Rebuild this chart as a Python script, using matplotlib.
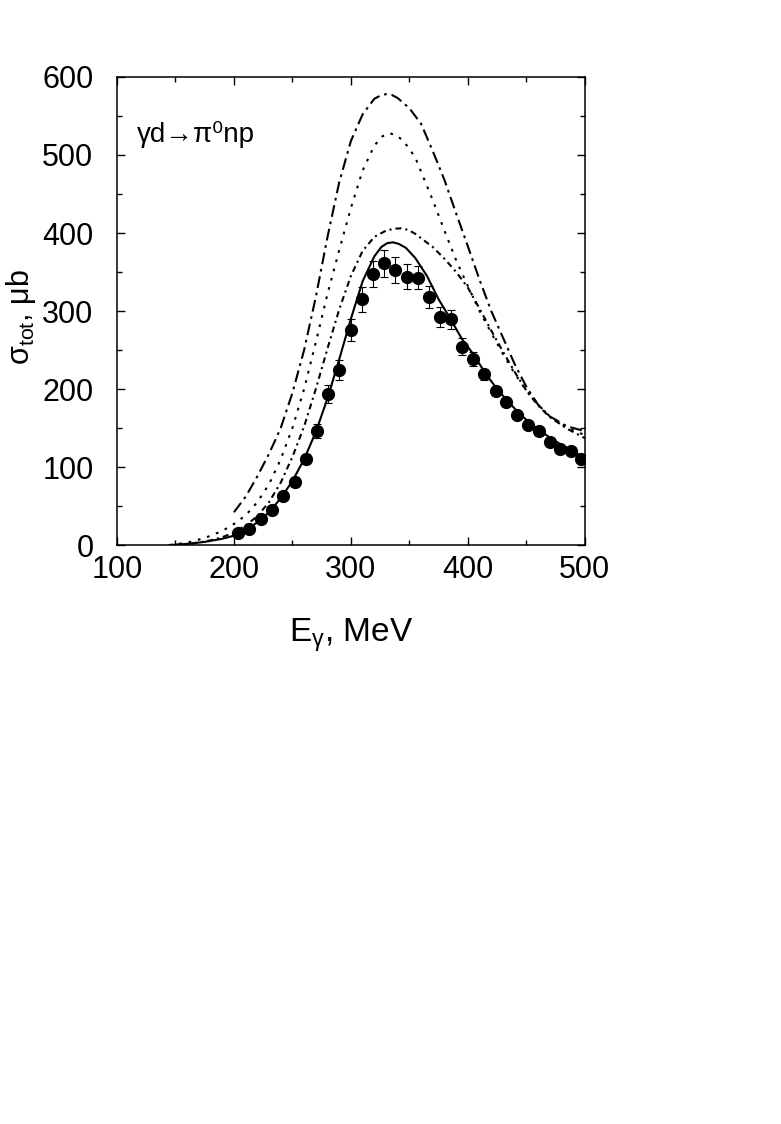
import numpy as np
import matplotlib
matplotlib.use("Agg")
import matplotlib.pyplot as plt

plt.rcParams["font.family"] = ["Liberation Sans", "DejaVu Sans"]
plt.rcParams["mathtext.fontset"] = "custom"
plt.rcParams["mathtext.rm"] = "Liberation Sans"

# measured points (E in MeV, sigma in microbarn)
E_data = [203.7, 212.8, 222.8, 232.2, 242.1, 252.1, 261.3, 271.2, 280.6, 289.7,
          299.7, 309.1, 318.5, 328.5, 337.6, 347.6, 357.0, 366.9, 376.1, 385.5,
          395.1, 404.5, 413.9, 423.9, 432.5, 441.6, 451.5, 460.9, 470.1, 479.2,
          488.0, 496.6]
sig_data = [15.8, 20.9, 33.7, 44.9, 63.2, 80.8, 110.3, 146.5, 193.6, 224.4,
            275.6, 315.0, 347.4, 361.2, 352.6, 344.0, 342.7, 317.6, 291.9, 289.4,
            254.2, 238.1, 218.8, 197.8, 183.3, 167.3, 153.5, 146.2, 132.4, 122.7,
            120.9, 110.3]
err_data = [3, 3, 4, 4, 5, 6, 7, 9, 12, 13, 14, 16, 17, 17, 17, 16, 15, 14, 13, 12,
            11, 9, 7, 6, 5, 5, 5, 5, 5, 5, 5, 5]

# full model (solid)
E_solid = [145, 160, 175, 190, 200, 210, 220, 230, 240, 250, 260, 270, 280, 290,
           300, 310, 320, 326, 331, 336, 341, 347, 355, 365, 375, 385, 395, 405,
           415, 425, 435, 445, 460, 475, 490, 500]
sig_solid = [0, 1.5, 4, 8, 12, 19, 29, 42, 60, 82, 110, 145, 188, 238,
             290, 338, 370, 382, 387, 388, 386, 381, 368, 345, 315, 290, 264, 244,
             220, 200, 183, 167, 148, 133, 120, 112]

# lower dash-dot curve
E_dd = [150, 165, 180, 190, 200, 210, 220, 230, 240, 250, 260, 270, 280, 290,
        300, 310, 320, 330, 337, 343, 349, 355, 370, 380, 390, 400, 410, 420,
        430, 440, 450, 460, 470, 485, 500]
sig_dd = [0, 2, 6, 10, 16, 25, 37, 55, 80, 113, 152, 200, 252, 302,
          345, 377, 395, 403, 405.5, 406, 404, 399, 382, 367, 350, 330, 303, 275,
          248, 222, 198, 179, 164, 149, 137]

# dotted curve
E_dot = [145, 160, 175, 190, 200, 210, 220, 230, 240, 250, 260, 270, 280, 290,
         300, 310, 320, 327, 333, 339, 345, 355, 370, 380, 390, 400, 410, 420,
         430, 440, 450, 460, 470, 485, 500]
sig_dot = [0, 3, 9, 18, 27, 38, 55, 78, 110, 150, 200, 260, 322, 378,
           432, 480, 512, 524, 528, 525, 518, 497, 442, 403, 365, 332, 300, 272,
           245, 220, 198, 180, 165, 150, 141]

# upper dash-dot curve
E_top = [200, 210, 220, 230, 240, 250, 260, 270, 280, 290, 300, 310, 320, 325,
         330, 335, 340, 350, 360, 370, 380, 390, 400, 410, 420, 430, 440, 450,
         460, 470, 485, 500]
sig_top = [42, 62, 88, 117, 150, 195, 250, 318, 395, 465, 518, 552, 572, 576,
           578, 577, 573, 560, 540, 505, 468, 425, 383, 340, 300, 266, 232, 203,
           180, 165, 152, 146]

fig = plt.figure(figsize=(7.81, 11.24), dpi=100)
ax = fig.add_axes([0.1498, 0.5151, 0.599, 0.4164])

ax.plot(E_top, sig_top, color="black", lw=1.5, dashes=(5.7, 2.3, 1.3, 2.3))
ax.plot(E_dot, sig_dot, color="black", lw=1.5, dashes=(1.3, 3.3))
ax.plot(E_dd, sig_dd, color="black", lw=1.5, dashes=(2.9, 1.9, 1.0, 1.9))
ax.plot(E_solid, sig_solid, color="black", lw=1.5)
ax.errorbar(E_data, sig_data, yerr=err_data, fmt="o", color="black", ms=8.5,
            elinewidth=0.8, capsize=3, capthick=0.8)

ax.set_xlim(100, 500)
ax.set_ylim(0, 600)
ax.set_xticks([100, 200, 300, 400, 500])
ax.set_xticks(np.arange(150, 500, 100), minor=True)
ax.set_yticks(np.arange(0, 601, 100))
ax.set_yticks(np.arange(50, 600, 100), minor=True)
ax.tick_params(which="both", direction="in", top=True, right=True, width=1)
ax.tick_params(which="major", length=6, labelsize=22)
ax.tick_params(which="minor", length=3.6)
ax.tick_params(axis="x", which="major", pad=7)
ax.tick_params(axis="y", which="major", pad=17)
for s in ax.spines.values():
    s.set_linewidth(1.1)

# axis titles placed in figure pixels
fig.text(351 / 781, 1 - 642 / 1124, r"$\mathregular{E_{\gamma}}$, MeV",
         fontsize=24, ha="center", va="baseline")
fig.text(21 / 781, 1 - 317 / 1124, r"$\mathregular{\sigma_{tot}}$, μb",
         fontsize=22, ha="center", va="center", rotation=90)

ax.text(0.043, 0.862, "γd→π⁰np", transform=ax.transAxes, fontsize=20,
        va="baseline")

fig.savefig("out.png", dpi=100)
